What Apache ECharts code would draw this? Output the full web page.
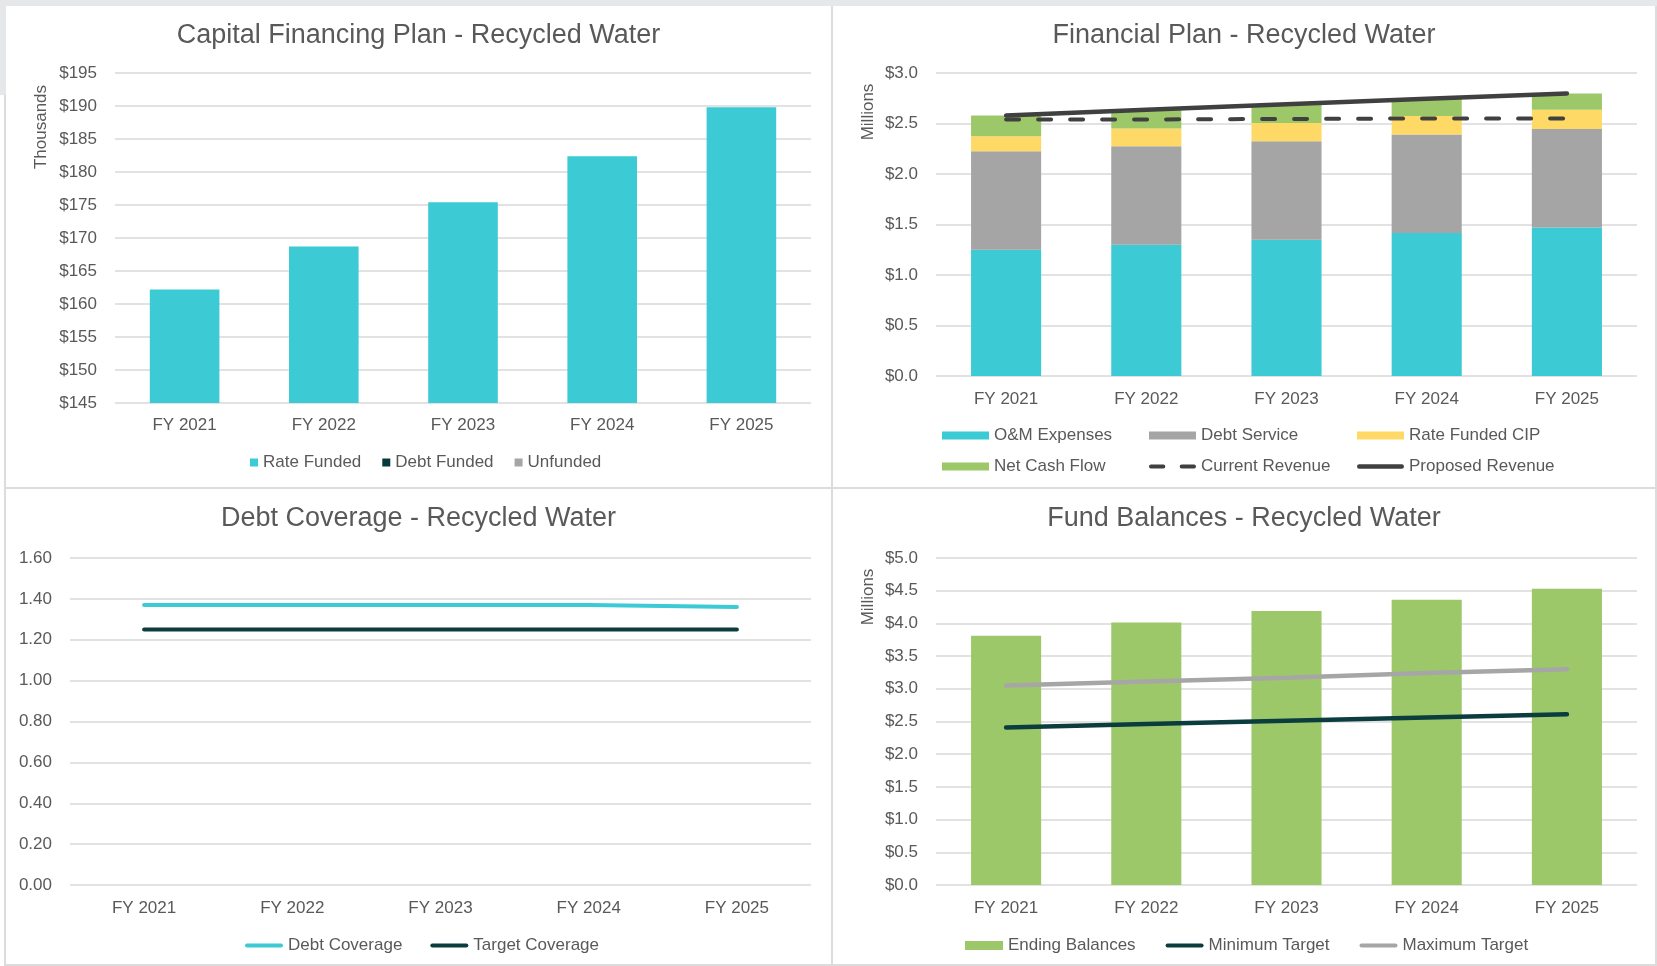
<!DOCTYPE html>
<html>
<head>
<meta charset="utf-8">
<title>Recycled Water</title>
<script src="https://cdn.jsdelivr.net/npm/echarts@6/dist/echarts.min.js"></script>
<style>
  html, body { margin: 0; padding: 0; background: #fff; }
  body { width: 1657px; height: 966px; position: relative; overflow: hidden; }
  .panel { position: absolute; background: #fff; }
  .rule { position: absolute; background: #dcdcdc; }
</style>
</head>
<body>
<div class="rule" style="left:0;top:0;width:1657px;height:6px;background:#e6e7e8"></div>
<div class="rule" style="left:0;top:0;width:6px;height:95px;background:#e6e7e8"></div>
<div class="rule" style="left:4px;top:95px;width:2px;height:871px"></div>
<div class="rule" style="left:831px;top:6px;width:2px;height:960px"></div>
<div class="rule" style="left:6px;top:487px;width:1651px;height:2px"></div>
<div class="rule" style="left:1655px;top:6px;width:2px;height:960px"></div>
<div class="rule" style="left:6px;top:964px;width:1651px;height:2px"></div>

<div id="capital" class="panel" style="left:6px;top:6px;width:825px;height:481px"></div>
<div id="financial" class="panel" style="left:833px;top:6px;width:822px;height:481px"></div>
<div id="coverage" class="panel" style="left:6px;top:489px;width:825px;height:475px"></div>
<div id="balances" class="panel" style="left:833px;top:489px;width:822px;height:475px"></div>

<script>
const years = ['FY 2021', 'FY 2022', 'FY 2023', 'FY 2024', 'FY 2025'];

// Capital Financing Plan ($ thousands)
const rateFunded = [162.2, 168.7, 175.4, 182.4, 189.8];
const debtFunded = [0, 0, 0, 0, 0];
const unfunded = [0, 0, 0, 0, 0];

// Financial Plan ($ millions)
const omExpenses = [1.25, 1.30, 1.35, 1.415, 1.47];
const debtService = [0.975, 0.975, 0.975, 0.975, 0.975];
const rateFundedCip = [0.15, 0.175, 0.18, 0.185, 0.19];
const netCashFlow = [0.205, 0.186, 0.185, 0.17, 0.163];
const currentRevenue = [2.54, 2.54, 2.545, 2.55, 2.55];
const proposedRevenue = [2.58, 2.636, 2.69, 2.745, 2.798];

// Debt Coverage (ratio)
const debtCoverage = [1.37, 1.37, 1.37, 1.37, 1.36];
const targetCoverage = [1.25, 1.25, 1.25, 1.25, 1.25];

// Fund Balances ($ millions)
const endingBalances = [3.81, 4.015, 4.19, 4.36, 4.53];
const minimumTarget = [2.41, 2.46, 2.51, 2.56, 2.61];
const maximumTarget = [3.05, 3.11, 3.17, 3.24, 3.30];

const FONT = '"Liberation Sans", Arial, sans-serif';
const TEXT = '#595959';
const TEAL = '#3ccad4';
const GREY = '#a5a5a5';
const GOLD = '#ffd966';
const GREEN = '#9dc86a';
const DARK = '#0b3d3f';
const CHARCOAL = '#404040';

// legend icons drawn as paths so line entries show no marker dot
const LINE_ICON = 'path://M2,0H36A2,2 0 0 1 36,4H2A2,2 0 0 1 2,0Z';
const SOLID_ICON = 'path://M2,0H45A2.25,2.25 0 0 1 45,4.5H2A2.25,2.25 0 0 1 2,0Z';
const DASH_ICON = 'path://M2,0H15A2,2 0 0 1 15,4H2A2,2 0 0 1 2,0ZM34,0H47A2,2 0 0 1 47,4H34A2,2 0 0 1 34,0Z';

function title(text) {
    return {
        text: text, left: 'center', top: 16, padding: 0,
        textStyle: { fontFamily: FONT, fontSize: 27, fontWeight: 'normal', color: TEXT }
    };
}

function catAxis(margin) {
    return {
        type: 'category', data: years, boundaryGap: true,
        axisLine: { show: false }, axisTick: { show: false },
        axisLabel: { margin: margin, fontFamily: FONT, fontSize: 17, color: TEXT }
    };
}

function valAxis(min, max, interval, fmt) {
    return {
        type: 'value', min: min, max: max, interval: interval,
        axisLine: { show: false }, axisTick: { show: false },
        splitLine: { lineStyle: { color: '#d9d9d9', width: 1.5 } },
        axisLabel: { margin: 18, fontFamily: FONT, fontSize: 17, color: TEXT, formatter: fmt }
    };
}

function unitLabel(text, x, y) {
    return {
        type: 'text', x: x, y: y, rotation: Math.PI / 2,
        style: { text: text, fontFamily: FONT, fontSize: 17, fill: TEXT, align: 'center', verticalAlign: 'middle' }
    };
}

const legendText = { fontFamily: FONT, fontSize: 17, color: TEXT };

// Capital Financing Plan
echarts.init(document.getElementById('capital')).setOption({
    animation: false,
    title: title('Capital Financing Plan - Recycled Water'),
    graphic: [unitLabel('Thousands', 35, 121)],
    grid: { left: 109, right: 20, top: 67, bottom: 84 },
    legend: {
        top: 448, left: 244, padding: 0,
        icon: 'rect', itemWidth: 8, itemGap: 21, itemHeight: 8,
        textStyle: legendText,
        data: ['Rate Funded', 'Debt Funded', 'Unfunded']
    },
    xAxis: catAxis(14),
    yAxis: valAxis(145, 195, 5, v => '$' + v),
    series: [
        { name: 'Rate Funded', type: 'bar', stack: 'cap', barWidth: '50%', itemStyle: { color: TEAL }, data: rateFunded },
        { name: 'Debt Funded', type: 'bar', stack: 'cap', itemStyle: { color: '#073b3a' }, data: debtFunded },
        { name: 'Unfunded', type: 'bar', stack: 'cap', itemStyle: { color: GREY }, data: unfunded }
    ]
});

// Financial Plan: three legend columns, two rows each
const finLegend = (left, items) => ({
    top: 421, left: left, padding: 0, orient: 'vertical',
    itemWidth: 47, itemHeight: 8, itemGap: 14, symbolKeepAspect: true,
    textStyle: legendText,
    data: items
});
echarts.init(document.getElementById('financial')).setOption({
    animation: false,
    title: title('Financial Plan - Recycled Water'),
    graphic: [unitLabel('Millions', 35, 106)],
    grid: { left: 103, right: 18, top: 67, bottom: 111 },
    legend: [
        finLegend(109, [{ name: 'O&M Expenses', icon: 'rect' }, { name: 'Net Cash Flow', icon: 'rect' }]),
        finLegend(316, [{ name: 'Debt Service', icon: 'rect' }, { name: 'Current Revenue', icon: DASH_ICON }]),
        finLegend(524, [{ name: 'Rate Funded CIP', icon: 'rect' }, { name: 'Proposed Revenue', icon: SOLID_ICON }])
    ],
    xAxis: catAxis(15),
    yAxis: valAxis(0, 3, 0.5, v => '$' + v.toFixed(1)),
    series: [
        { name: 'O&M Expenses', type: 'bar', stack: 'fin', barWidth: '50%', itemStyle: { color: TEAL }, data: omExpenses },
        { name: 'Debt Service', type: 'bar', stack: 'fin', itemStyle: { color: GREY }, data: debtService },
        { name: 'Rate Funded CIP', type: 'bar', stack: 'fin', itemStyle: { color: GOLD }, data: rateFundedCip },
        { name: 'Net Cash Flow', type: 'bar', stack: 'fin', itemStyle: { color: GREEN }, data: netCashFlow },
        {
            name: 'Current Revenue', type: 'line', symbol: 'none', itemStyle: { color: CHARCOAL },
            lineStyle: { color: CHARCOAL, width: 4, type: [13, 19], cap: 'round' }, data: currentRevenue
        },
        {
            name: 'Proposed Revenue', type: 'line', symbol: 'none', itemStyle: { color: CHARCOAL },
            lineStyle: { color: CHARCOAL, width: 4.5, cap: 'round' }, data: proposedRevenue
        }
    ]
});

// Debt Coverage
echarts.init(document.getElementById('coverage')).setOption({
    animation: false,
    title: title('Debt Coverage - Recycled Water'),
    grid: { left: 64, right: 20, top: 69, bottom: 79 },
    legend: {
        top: 448, left: 239, padding: 0,
        itemWidth: 38, itemHeight: 8, itemGap: 28, symbolKeepAspect: true,
        textStyle: legendText,
        data: [{ name: 'Debt Coverage', icon: LINE_ICON }, { name: 'Target Coverage', icon: LINE_ICON }]
    },
    xAxis: catAxis(15),
    yAxis: valAxis(0, 1.6, 0.2, v => v.toFixed(2)),
    series: [
        { name: 'Debt Coverage', type: 'line', symbol: 'none', itemStyle: { color: TEAL }, lineStyle: { color: TEAL, width: 4, cap: 'round' }, data: debtCoverage },
        { name: 'Target Coverage', type: 'line', symbol: 'none', itemStyle: { color: DARK }, lineStyle: { color: DARK, width: 4, cap: 'round' }, data: targetCoverage }
    ]
});

// Fund Balances
echarts.init(document.getElementById('balances')).setOption({
    animation: false,
    title: title('Fund Balances - Recycled Water'),
    graphic: [unitLabel('Millions', 35, 108)],
    grid: { left: 103, right: 18, top: 69, bottom: 79 },
    legend: {
        top: 448, left: 132, padding: 0,
        itemWidth: 38, itemHeight: 9, itemGap: 30, symbolKeepAspect: true,
        textStyle: legendText,
        data: [
            { name: 'Ending Balances', icon: 'rect' },
            { name: 'Minimum Target', icon: LINE_ICON },
            { name: 'Maximum Target', icon: LINE_ICON }
        ]
    },
    xAxis: catAxis(15),
    yAxis: valAxis(0, 5, 0.5, v => '$' + v.toFixed(1)),
    series: [
        { name: 'Ending Balances', type: 'bar', barWidth: '50%', itemStyle: { color: GREEN }, data: endingBalances },
        { name: 'Minimum Target', type: 'line', symbol: 'none', itemStyle: { color: DARK }, lineStyle: { color: DARK, width: 4.5, cap: 'round' }, data: minimumTarget },
        { name: 'Maximum Target', type: 'line', symbol: 'none', itemStyle: { color: '#a6a6a6' }, lineStyle: { color: '#a6a6a6', width: 4.5, cap: 'round' }, data: maximumTarget }
    ]
});
</script>
</body>
</html>
